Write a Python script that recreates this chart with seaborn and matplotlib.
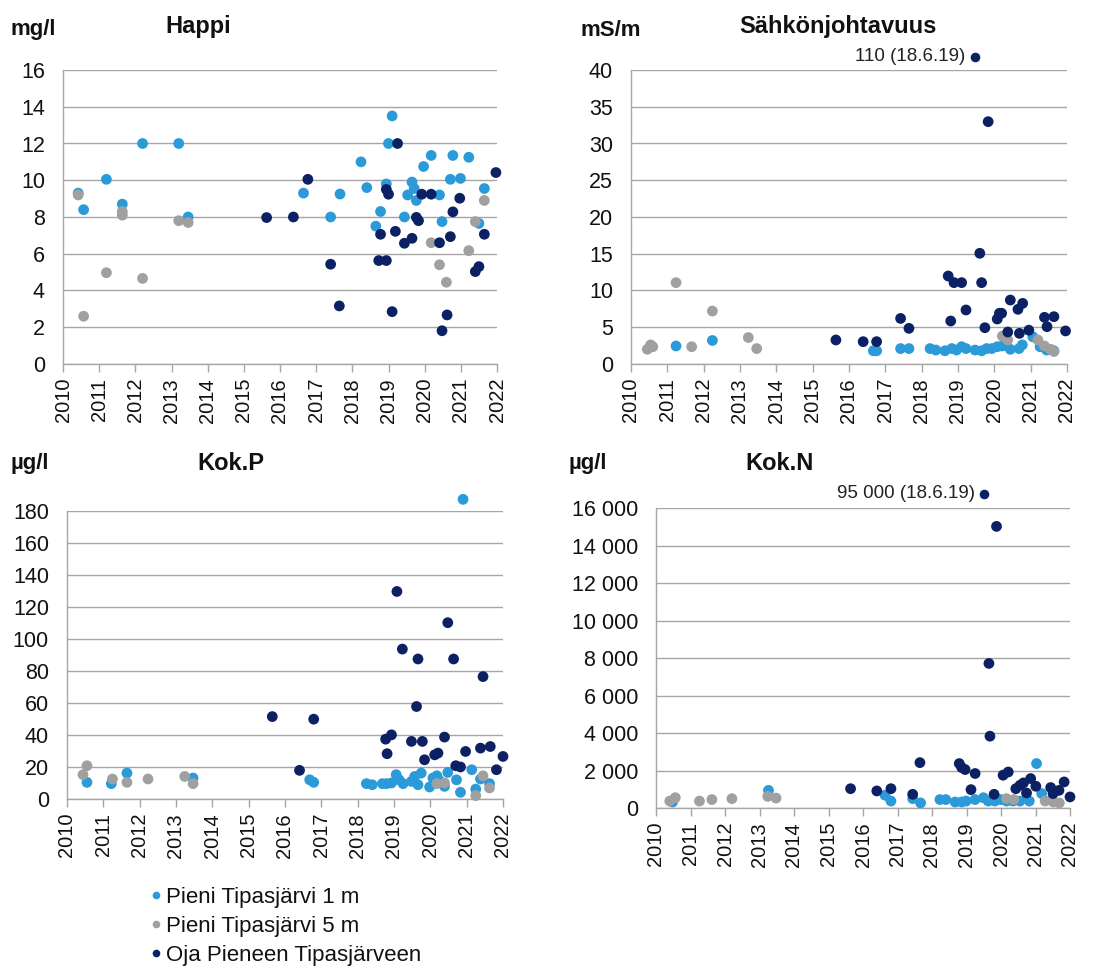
import numpy as np
import pandas as pd
import matplotlib
matplotlib.use("Agg")
import matplotlib.pyplot as plt
from matplotlib.ticker import FuncFormatter, MultipleLocator
from matplotlib.lines import Line2D
import seaborn as sns

# ---------------- data ----------------
series_names = ["Pieni Tipasjärvi 1 m", "Pieni Tipasjärvi 5 m", "Oja Pieneen Tipasjärveen"]
series_colors = ["#2B9AD8", "#A0A0A0", "#0B2164"]

# Happi (mg/l)
happi_1m_x = [2010.42, 2010.57, 2011.20, 2011.64, 2012.20, 2013.20, 2013.46, 2016.65, 2017.40, 2017.66,
              2018.24, 2018.40, 2018.65, 2018.78, 2018.94, 2019.00, 2019.10, 2019.44, 2019.53, 2019.65,
              2019.71, 2019.77, 2019.97, 2020.18, 2020.41, 2020.48, 2020.71, 2020.78, 2020.99, 2021.22,
              2021.50, 2021.65]
happi_1m_y = [9.3, 8.4, 10.05, 8.7, 12.0, 12.0, 8.0, 9.3, 8.0, 9.25,
              11.0, 9.6, 7.5, 8.3, 9.8, 12.0, 13.5, 8.0, 9.2, 9.9,
              9.55, 8.9, 10.75, 11.35, 9.2, 7.75, 10.05, 11.35, 10.1, 11.25,
              7.65, 9.55]
happi_5m_x = [2010.42, 2010.57, 2011.20, 2011.64, 2011.64, 2012.20, 2013.20, 2013.46, 2020.18, 2020.41,
              2020.60, 2021.22, 2021.40, 2021.65]
happi_5m_y = [9.2, 2.6, 4.97, 8.1, 8.3, 4.66, 7.8, 7.7, 6.6, 5.4,
              4.45, 6.17, 7.75, 8.9]
happi_oja_x = [2015.63, 2016.37, 2016.77, 2017.40, 2017.64, 2018.73, 2018.78, 2018.94, 2018.94, 2019.00,
               2019.10, 2019.19, 2019.25, 2019.44, 2019.65, 2019.77, 2019.83, 2019.92, 2020.18, 2020.41,
               2020.48, 2020.62, 2020.71, 2020.78, 2020.97, 2021.40, 2021.50, 2021.65, 2021.97]
happi_oja_y = [7.97, 8.0, 10.05, 5.43, 3.16, 5.63, 7.06, 5.63, 9.5, 9.24,
               2.85, 7.22, 12.0, 6.57, 6.84, 7.98, 7.8, 9.24, 9.24, 6.6,
               1.81, 2.67, 6.93, 8.28, 9.02, 5.03, 5.3, 7.06, 10.42]

# Sähkönjohtavuus (mS/m)
sahko_1m_x = [2011.24, 2012.24, 2016.67, 2016.76, 2017.42, 2017.65, 2018.23, 2018.39, 2018.64, 2018.83,
              2018.96, 2019.10, 2019.22, 2019.47, 2019.65, 2019.79, 2019.93, 2020.08, 2020.22, 2020.44,
              2020.68, 2020.77, 2021.06, 2021.26, 2021.44, 2021.64]
sahko_1m_y = [2.45, 3.2, 1.8, 1.8, 2.1, 2.1, 2.1, 1.9, 1.8, 2.1,
              1.9, 2.35, 2.1, 1.9, 1.8, 2.1, 2.1, 2.35, 2.45, 2.0,
              2.1, 2.6, 3.7, 2.35, 1.9, 1.8]
sahko_5m_x = [2010.45, 2010.54, 2010.60, 2011.24, 2011.67, 2012.24, 2013.23, 2013.46, 2020.22, 2020.37,
              2021.20, 2021.38, 2021.55, 2021.64]
sahko_5m_y = [2.0, 2.6, 2.35, 11.07, 2.35, 7.2, 3.6, 2.1, 3.8, 3.27,
              3.27, 2.45, 2.0, 1.7]
sahko_oja_x = [2015.64, 2016.39, 2016.76, 2017.42, 2017.65, 2018.73, 2018.80, 2018.89, 2019.10, 2019.22,
               2019.60, 2019.65, 2019.74, 2019.83, 2020.08, 2020.14, 2020.20, 2020.37, 2020.44, 2020.65,
               2020.69, 2020.78, 2020.95, 2021.38, 2021.45, 2021.64, 2021.96]
sahko_oja_y = [3.27, 3.04, 3.04, 6.2, 4.85, 11.97, 5.85, 11.07, 11.07, 7.35,
               15.06, 11.07, 4.94, 32.97, 6.12, 6.9, 6.9, 4.35, 8.7, 7.44,
               4.17, 8.25, 4.6, 6.35, 5.08, 6.44, 4.5]
# off-scale value (110 mS/m, 18.6.19) shown just above the axis top
sahko_outlier_x = [2019.47]
sahko_outlier_y = [41.8]
sahko_outlier_label = "110 (18.6.19)"

# Kok.P (µg/l)
kokp_1m_x = [2010.55, 2011.22, 2011.65, 2013.47, 2016.68, 2016.79, 2018.24, 2018.40, 2018.68, 2018.80,
             2018.93, 2019.06, 2019.14, 2019.25, 2019.48, 2019.57, 2019.66, 2019.75, 2019.98, 2020.07,
             2020.18, 2020.23, 2020.39, 2020.48, 2020.72, 2020.83, 2020.90, 2021.14, 2021.25, 2021.38,
             2021.63]
kokp_1m_y = [10.4, 9.6, 16.2, 13.1, 12.0, 10.4, 9.6, 8.9, 9.6, 9.6,
             10.0, 15.2, 12.0, 9.6, 11.0, 14.1, 8.9, 16.2, 7.5, 13.1,
             14.5, 12.0, 7.9, 16.6, 12.0, 4.2, 187.3, 18.3, 6.2, 12.5,
             9.6]
kokp_5m_x = [2010.44, 2010.55, 2011.25, 2011.65, 2012.23, 2013.24, 2013.47, 2020.18, 2020.39, 2021.25,
             2021.45, 2021.63]
kokp_5m_y = [15.2, 20.8, 12.5, 10.4, 12.5, 14.1, 9.6, 9.6, 10.0, 2.1,
             14.5, 6.9]
kokp_oja_x = [2015.65, 2016.40, 2016.79, 2018.77, 2018.81, 2018.93, 2019.08, 2019.23, 2019.48, 2019.62,
              2019.66, 2019.78, 2019.84, 2020.12, 2020.21, 2020.39, 2020.48, 2020.64, 2020.70, 2020.83,
              2020.97, 2021.38, 2021.45, 2021.65, 2021.82, 2022.00]
kokp_oja_y = [51.5, 17.9, 49.9, 37.4, 28.3, 40.1, 129.7, 93.7, 36.0, 57.8,
              87.5, 36.0, 24.5, 27.6, 28.7, 38.7, 110.2, 87.5, 20.8, 20.0,
              29.7, 31.8, 76.5, 32.8, 18.3, 26.6]

# Kok.N (µg/l)
kokn_1m_x = [2010.48, 2013.26, 2016.64, 2016.81, 2017.44, 2017.67, 2018.23, 2018.40, 2018.67, 2018.86,
             2018.99, 2019.25, 2019.49, 2019.63, 2019.82, 2019.99, 2020.16, 2020.35, 2020.55, 2020.82,
             2021.03, 2021.18, 2021.47]
kokn_1m_y = [320, 940, 680, 370, 500, 270, 450, 450, 320, 320,
             370, 450, 550, 370, 370, 450, 370, 370, 370, 370,
             2370, 770, 450]
kokn_5m_x = [2010.40, 2010.56, 2011.26, 2011.62, 2012.20, 2013.24, 2013.48, 2020.16, 2020.37, 2021.28,
             2021.52, 2021.69]
kokn_5m_y = [370, 550, 370, 450, 500, 620, 530, 500, 450, 370,
             320, 270]
kokn_oja_x = [2015.64, 2016.40, 2016.81, 2017.44, 2017.65, 2018.79, 2018.86, 2018.96, 2019.13, 2019.25,
              2019.65, 2019.68, 2019.80, 2019.87, 2020.06, 2020.21, 2020.43, 2020.55, 2020.65, 2020.74,
              2020.86, 2021.01, 2021.44, 2021.51, 2021.68, 2021.83, 2022.00]
kokn_oja_y = [1030, 910, 1030, 730, 2420, 2370, 2160, 2050, 980, 1840,
              7710, 3830, 730, 15020, 1750, 1920, 1030, 1210, 1340, 800,
              1570, 1160, 1090, 770, 940, 1390, 590]
# off-scale value (95 000 µg/l, 18.6.19) shown just above the axis top
kokn_outlier_x = [2019.52]
kokn_outlier_y = [16750]
kokn_outlier_label = "95 000 (18.6.19)"

year_ticks = list(range(2010, 2023))

# ---------------- styling ----------------
sns.set_theme(style="white")
plt.rcParams["font.family"] = ["Liberation Sans", "DejaVu Sans"]

W, H = 1117, 972
fig = plt.figure(figsize=(W / 100, H / 100), dpi=100)
palette = dict(zip(series_names, series_colors))
GRID = "#A6A6A6"
TXT = "#111111"
DOT = 60


def make_df(xs, ys):
    frames = []
    for name, x, y in zip(series_names, xs, ys):
        frames.append(pd.DataFrame({"year": x, "value": y, "series": name}))
    return pd.concat(frames, ignore_index=True)


def px_axes(left, right, top, bottom):
    return fig.add_axes([left / W, 1 - bottom / H, (right - left) / W, (bottom - top) / H])


def style_axes(ax, ymax, ystep, fmt=None):
    ax.set_xlim(2010, 2022)
    ax.set_ylim(0, ymax)
    ax.set_xticks(year_ticks)
    ax.set_xticklabels([str(y) for y in year_ticks], rotation=90, fontsize=14.5, color=TXT)
    ax.yaxis.set_major_locator(MultipleLocator(ystep))
    if fmt is not None:
        ax.yaxis.set_major_formatter(FuncFormatter(fmt))
    ax.tick_params(axis="y", labelsize=15.5, labelcolor=TXT, length=6, width=1, color=GRID, pad=7)
    ax.tick_params(axis="x", length=6, width=1, color=GRID, pad=4, direction="out", bottom=True)
    ax.grid(axis="y", color=GRID, linewidth=1)
    ax.grid(axis="x", visible=False)
    ax.set_axisbelow(True)
    for s in ["top", "right"]:
        ax.spines[s].set_visible(False)
    for s in ["left", "bottom"]:
        ax.spines[s].set_color(GRID)
        ax.spines[s].set_linewidth(1)
    ax.set_xlabel("")
    ax.set_ylabel("")


def draw(ax, df):
    sns.scatterplot(data=df, x="year", y="value", hue="series", hue_order=series_names,
                    palette=palette, s=DOT, linewidth=0, ax=ax, legend=False, clip_on=False, zorder=3)


def outlier(ax, xs, ys, label):
    sns.scatterplot(x=xs, y=ys, color=series_colors[2], s=DOT * 0.8, linewidth=0,
                    ax=ax, legend=False, clip_on=False, zorder=3)
    ax.annotate(label, xy=(xs[0], ys[0]), xytext=(-7, 0), textcoords="offset points",
                ha="right", va="center", fontsize=13.5, color="#222222", annotation_clip=False)


ax1 = px_axes(63, 497, 70, 364)
draw(ax1, make_df([happi_1m_x, happi_5m_x, happi_oja_x], [happi_1m_y, happi_5m_y, happi_oja_y]))
style_axes(ax1, 16, 2)

ax2 = px_axes(631, 1067, 70, 364)
draw(ax2, make_df([sahko_1m_x, sahko_5m_x, sahko_oja_x], [sahko_1m_y, sahko_5m_y, sahko_oja_y]))
outlier(ax2, sahko_outlier_x, sahko_outlier_y, sahko_outlier_label)
style_axes(ax2, 40, 5)

ax3 = px_axes(67, 503, 511, 799)
draw(ax3, make_df([kokp_1m_x, kokp_5m_x, kokp_oja_x], [kokp_1m_y, kokp_5m_y, kokp_oja_y]))
style_axes(ax3, 180, 20)

ax4 = px_axes(656, 1070, 508, 808)
draw(ax4, make_df([kokn_1m_x, kokn_5m_x, kokn_oja_x], [kokn_1m_y, kokn_5m_y, kokn_oja_y]))
outlier(ax4, kokn_outlier_x, kokn_outlier_y, kokn_outlier_label)
style_axes(ax4, 16000, 2000, fmt=lambda v, p: f"{int(v):,}".replace(",", " "))


# titles and units
def ftext(x, y, s, **kw):
    fig.text(x / W, 1 - y / H, s, **kw)


UNIT = dict(fontsize=16, fontweight="bold", va="center", ha="left", color=TXT)
TITLE = dict(fontsize=17, fontweight="bold", va="center", ha="center", color=TXT)
ftext(11, 30, "mg/l", **UNIT)
ftext(198, 26, "Happi", **TITLE)
ftext(580, 30, "mS/m", **UNIT)
ftext(838, 26, "Sähkönjohtavuus", **TITLE)
ftext(10, 463, "µg/l", **UNIT)
ftext(231, 463, "Kok.P", **TITLE)
ftext(568, 463, "µg/l", **UNIT)
ftext(780, 463, "Kok.N", **TITLE)

# legend
handles = [Line2D([0], [0], marker="o", linestyle="", markersize=5.5, markerfacecolor=c,
                  markeredgewidth=0) for c in series_colors]
fig.legend(handles, series_names, loc="upper left", bbox_to_anchor=(147 / W, 1 - 887 / H),
           frameon=False, fontsize=16, handletextpad=0.05, handlelength=0.8, labelspacing=0.36,
           borderaxespad=0, borderpad=0, labelcolor=TXT)

fig.savefig("out.png", dpi=100)
